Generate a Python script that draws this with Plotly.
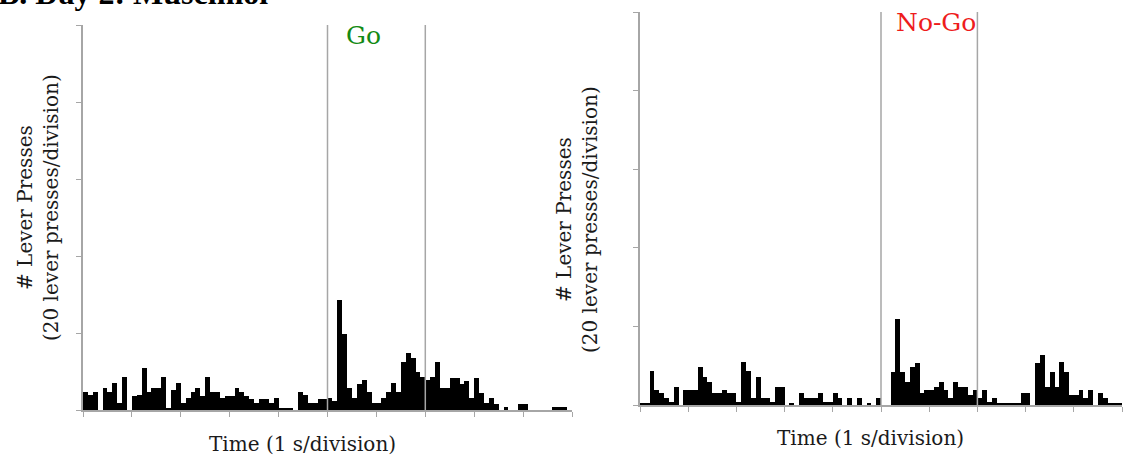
import numpy as np
import plotly.graph_objects as go

W, H = 1125, 462

# ---- data (lever presses per 0.1 s bin, 10 s window) ----
bin_width_s = 0.1
go_counts = [4.7, 3.9, 4.6, 0, 5.8, 4.6, 6.9, 1.7, 8.6, 0,
             3.7, 4.0, 10.9, 4.6, 5.8, 5.8, 8.6, 0.4, 5.2, 6.9,
             1.7, 3.0, 4.6, 5.8, 3.7, 8.6, 4.6, 4.6, 3.0, 3.7,
             3.7, 5.8, 4.7, 3.6, 2.8, 1.7, 2.8, 2.8, 1.7, 3.0,
             0.5, 0.5, 0.5, 0, 4.7, 3.9, 1.7, 1.7, 2.8, 2.8,
             3.0, 2.4, 28.6, 19.8, 5.6, 3.0, 6.7, 7.8, 4.6, 1.7,
             1.7, 3.0, 4.6, 6.9, 4.6, 12.5, 14.9, 13.6, 9.9, 8.6,
             7.8, 8.6, 12.5, 5.6, 5.6, 8.4, 8.4, 6.7, 7.6, 3.0,
             8.4, 4.3, 1.7, 3.0, 1.6, 0, 0.7, 0, 0, 1.6,
             1.6, 0, 0, 0, 0, 0, 0.7, 0.7, 0.7, 0]
nogo_counts = [0.4, 0.4, 8.7, 3.8, 3.0, 1.7, 0.8, 4.7, 0, 3.8,
               3.8, 3.8, 9.7, 7.0, 5.9, 3.0, 3.0, 3.8, 3.0, 3.0,
               0.8, 11.0, 8.7, 1.7, 7.0, 1.7, 1.7, 0.8, 4.7, 4.7,
               0, 0.4, 0, 3.0, 1.7, 1.7, 1.7, 3.0, 0.8, 0.8,
               3.0, 1.7, 0, 1.7, 0, 1.7, 0, 0.4, 0, 1.7,
               0, 0, 8.5, 21.8, 8.5, 5.9, 9.6, 10.8, 3.0, 3.8,
               3.8, 4.7, 5.8, 3.8, 1.7, 5.8, 4.7, 4.7, 2.5, 3.8,
               1.7, 3.8, 0.8, 1.9, 0.6, 0.6, 0.6, 0.6, 0.6, 3.0,
               3.0, 0, 10.6, 12.7, 4.7, 8.5, 4.7, 11.0, 8.5, 2.5,
               2.5, 3.8, 1.9, 3.8, 0, 3.0, 1.7, 0.6, 0.6, 0.6]
stimulus_lines_s = [5, 7]
x_ticks = list(range(0, 11))
y_ticks = [0, 20, 40, 60, 80, 100]

t_go = np.arange(len(go_counts)) * bin_width_s + bin_width_s / 2
t_nogo = np.arange(len(nogo_counts)) * bin_width_s + bin_width_s / 2


def px(x):
    return x / W


def py(y):
    return 1 - y / H


GRAY = "#a6a6a6"
SERIF = "DejaVu Serif"
TXT = "#1a1a1a"

fig = go.Figure()
fig.add_trace(go.Bar(x=t_go, y=go_counts, width=bin_width_s, marker=dict(color="black", line=dict(width=0)),
                     xaxis="x", yaxis="y", showlegend=False))
fig.add_trace(go.Bar(x=t_nogo, y=nogo_counts, width=bin_width_s, marker=dict(color="black", line=dict(width=0)),
                     xaxis="x2", yaxis="y2", showlegend=False))

xcommon = dict(range=[0, 10], tickvals=x_ticks, ticks="outside", ticklen=5, tickcolor=GRAY, tickwidth=1.2,
               showticklabels=False, showline=True, linecolor=GRAY, linewidth=1.5, showgrid=False, zeroline=False,
               fixedrange=True)
ycommon = dict(range=[0, 100], tickvals=y_ticks, ticks="outside", ticklen=5, tickcolor=GRAY, tickwidth=1.2,
               showticklabels=False, showline=True, linecolor=GRAY, linewidth=1.5, showgrid=False, zeroline=False,
               fixedrange=True)

fig.update_layout(
    width=W, height=H, margin=dict(l=0, r=0, t=0, b=0),
    paper_bgcolor="white", plot_bgcolor="white", bargap=0,
    xaxis=dict(domain=[px(83), px(572)], anchor="y", **xcommon),
    yaxis=dict(domain=[py(410), py(25)], anchor="x", **ycommon),
    xaxis2=dict(domain=[px(640), px(1122)], anchor="y2", **xcommon),
    yaxis2=dict(domain=[py(405), py(12)], anchor="x2", **ycommon),
)

shapes = []
for xa, ya in (("x", "y"), ("x2", "y2")):
    for s in stimulus_lines_s:
        shapes.append(dict(type="line", xref=xa, yref=ya, x0=s, x1=s, y0=0, y1=100,
                           line=dict(color=GRAY, width=1.5), layer="above"))
fig.update_layout(shapes=shapes)

ytitle = "# Lever Presses<br>(20 lever presses/division)"
annotations = [
    dict(text="<b>B. Day 2: Muscimol</b>", x=px(-4), y=py(13), xref="paper", yref="paper",
         xanchor="left", yanchor="bottom", showarrow=False,
         font=dict(family="Liberation Serif", size=32, color="black")),
    dict(text="Go", x=px(363), y=py(35), xref="paper", yref="paper", xanchor="center", yanchor="middle",
         showarrow=False, font=dict(family=SERIF, size=25, color="#138a13")),
    dict(text="No-Go", x=px(936), y=py(22), xref="paper", yref="paper", xanchor="center", yanchor="middle",
         showarrow=False, font=dict(family=SERIF, size=25, color="#ee1c1c")),
    dict(text=ytitle, x=px(38), y=py(208), xref="paper", yref="paper", xanchor="center", yanchor="middle",
         textangle=-90, showarrow=False, font=dict(family=SERIF, size=20, color=TXT)),
    dict(text=ytitle, x=px(577), y=py(220), xref="paper", yref="paper", xanchor="center", yanchor="middle",
         textangle=-90, showarrow=False, font=dict(family=SERIF, size=20, color=TXT)),
    dict(text="Time (1 s/division)", x=px(302), y=py(444), xref="paper", yref="paper", xanchor="center",
         yanchor="middle", showarrow=False, font=dict(family=SERIF, size=20, color=TXT)),
    dict(text="Time (1 s/division)", x=px(870), y=py(438), xref="paper", yref="paper", xanchor="center",
         yanchor="middle", showarrow=False, font=dict(family=SERIF, size=20, color=TXT)),
]
fig.update_layout(annotations=annotations)

fig.write_html("out.html", config={"displayModeBar": False})
